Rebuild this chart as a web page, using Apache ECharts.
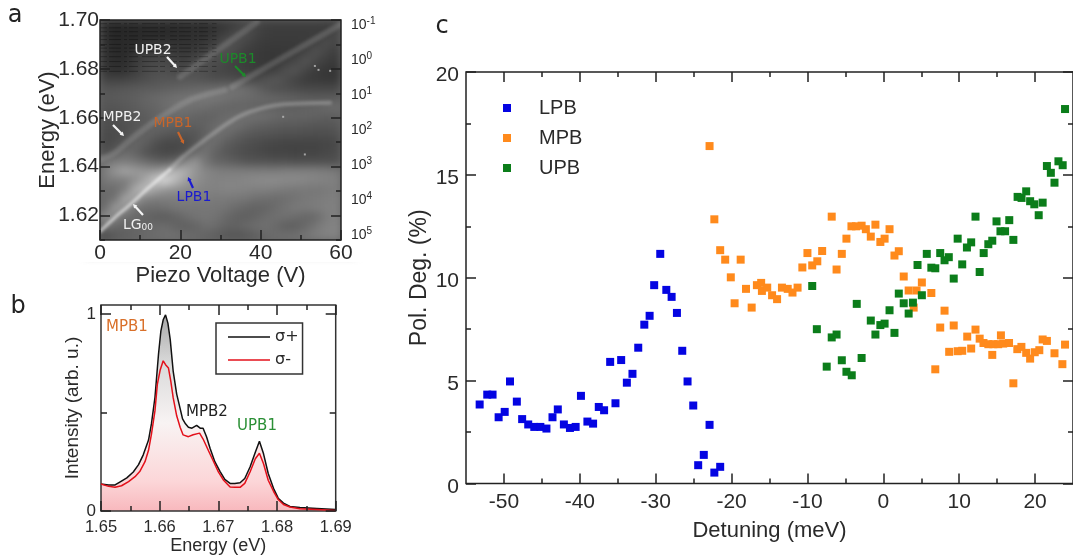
<!DOCTYPE html>
<html><head><meta charset="utf-8">
<style>html,body{margin:0;padding:0;background:#fff;overflow:hidden}#c{width:1073px;height:556px}</style>
<script src="https://cdn.jsdelivr.net/npm/echarts@6/dist/echarts.min.js"></script>
</head><body><div id="c"></div>
<script>
// ---- panel c: polarization degree vs detuning ----
const lpbX=[-53.2,-52.2,-51.5,-50.7,-49.9,-49.2,-48.3,-47.6,-46.8,-46.0,-45.2,-44.4,-43.6,-42.9,-42.1,-41.3,-40.55,-39.85,-39.0,-38.25,-37.5,-36.8,-36.0,-35.3,-34.55,-33.8,-33.06,-32.3,-31.5,-30.8,-30.2,-29.4,-28.6,-27.9,-27.2,-26.5,-25.8,-25.05,-24.4,-23.66,-22.9,-22.27,-21.5];
const lpbY=[3.84,4.32,4.32,3.22,3.48,4.96,3.98,3.13,2.87,2.75,2.75,2.67,3.22,3.6,2.87,2.7,2.75,4.26,3.01,2.91,3.72,3.56,5.91,3.9,6.0,4.9,5.33,6.6,7.72,8.15,9.64,11.16,9.41,9.07,8.29,6.45,4.96,3.79,0.89,1.39,2.85,0.53,0.81];
const mpbX=[-22.9,-22.27,-21.5,-20.84,-20.1,-19.6,-18.8,-18.1,-17.35,-16.66,-16.1,-16.0,-15.3,-14.66,-14.0,-13.36,-12.6,-11.97,-11.3,-10.67,-10.0,-9.37,-8.7,-8.06,-6.8,-6.16,-5.47,-4.86,-4.2,-3.6,-2.86,-2.3,-1.65,-1.04,-0.39,0.17,0.82,1.47,2.04,2.69,3.34,4.0,4.38,5.08,6.33,6.85,7.5,8.07,8.68,9.28,9.8,10.4,11.06,11.58,12.15,12.7,13.2,13.84,14.36,14.5,15.14,15.5,15.8,16.57,17.14,17.66,18.2,18.83,19.35,19.96,20.56,21.0,21.56,22.56,23.6,23.95];
const mpbY=[16.4,12.84,11.34,10.88,10.02,8.76,10.88,9.46,8.55,9.64,9.75,9.36,9.52,9.15,8.96,9.52,9.46,9.28,9.52,10.5,11.2,10.6,10.8,11.3,12.97,10.4,11.16,11.9,12.5,12.5,12.53,12.36,12.0,12.58,11.74,11.9,12.36,11.08,11.29,10.06,9.38,8.55,9.38,9.77,9.26,5.55,7.58,8.4,6.4,7.68,6.43,6.45,7.14,6.56,7.48,7.04,6.83,6.77,6.25,6.77,6.77,7.2,6.8,6.83,4.87,6.53,6.64,6.35,6.07,6.38,6.48,7.0,6.93,6.33,5.8,6.75];
const upbX=[-9.37,-8.76,-7.46,-6.8,-6.16,-5.47,-4.86,-4.16,-3.5,-2.86,-1.65,-1.04,-0.39,0.17,0.82,1.47,2.04,2.69,3.34,3.9,4.51,5.08,5.73,6.33,6.85,7.5,8.07,8.63,9.28,9.8,10.4,11.02,11.58,12.15,12.7,13.23,13.84,14.36,14.92,15.44,16.05,16.6,17.14,17.7,18.22,18.83,19.35,19.9,20.48,21.0,21.56,22.08,22.56,23.08,23.64,23.95];
const upbY=[9.6,7.5,5.68,7.1,7.24,5.99,5.43,5.26,8.73,6.1,7.92,7.24,7.7,7.77,8.42,7.32,9.23,8.76,8.26,8.79,10.62,9.15,11.16,10.49,10.46,11.2,10.85,11.0,9.96,11.9,10.65,11.47,11.72,12.97,10.28,11.2,11.63,11.8,12.74,12.26,12.26,12.8,11.84,13.93,13.88,14.2,13.72,13.57,13.04,13.65,15.43,15.1,14.62,15.66,15.47,18.2];
const detuningLabels=[-50,-40,-30,-20,-10,0,10,20];
const detuningMinor=[-45,-35,-25,-15,-5,5,15];
const polLabels=[0,5,10,15,20];
const polMinor=[2.5,7.5,12.5,17.5];

// ---- panel b: spectra ----
const blackE=[1.65,1.6513,1.6524,1.6532,1.6544,1.6555,1.6564,1.6572,1.6581,1.6586,1.6592,1.6598,1.6602,1.6606,1.6610,1.6614,1.6618,1.6623,1.6629,1.6635,1.6639,1.6644,1.6649,1.6655,1.6663,1.6669,1.6674,1.6680,1.6686,1.6694,1.6703,1.6711,1.6720,1.6728,1.6737,1.6745,1.6754,1.6763,1.6770,1.6777,1.6785,1.6794,1.6802,1.6811,1.6822,1.6839,1.6868,1.69];
const blackI=[.137,.132,.132,.147,.168,.198,.235,.285,.36,.443,.577,.795,.912,.97,.995,.953,.869,.71,.593,.518,.467,.442,.425,.42,.434,.42,.42,.375,.317,.25,.2,.16,.14,.14,.143,.165,.223,.298,.354,.29,.19,.115,.065,.04,.023,.018,.013,.007];
const redE=[1.65,1.6513,1.6524,1.6535,1.6547,1.6558,1.6566,1.6575,1.6581,1.6586,1.6592,1.6596,1.6601,1.6606,1.6610,1.6615,1.6619,1.6623,1.6629,1.6635,1.6640,1.6649,1.6657,1.6668,1.6674,1.6683,1.6691,1.6700,1.6709,1.6720,1.6728,1.6737,1.6745,1.6754,1.6763,1.6770,1.6777,1.6785,1.6794,1.6802,1.6811,1.6822,1.6839,1.6868,1.69];
const redI=[.137,.125,.12,.128,.149,.174,.2,.25,.308,.39,.509,.642,.717,.762,.742,.725,.658,.575,.483,.424,.386,.377,.387,.395,.365,.307,.256,.198,.156,.122,.12,.12,.14,.198,.265,.293,.24,.156,.1,.058,.033,.02,.012,.008,.003];
const energyLabels=[1.65,1.66,1.67,1.68,1.69];
const energyMinor=[1.655,1.665,1.675,1.685];
const intensityLabels=[0,1];
const intensityMid=[0.5];

// ---- panel a: map, gray level per cell (top row = highest energy) ----
const mapRows=[
[45,40,40,42,42,45,42,42,45,45,45,50,55,60,70,70,62,62,62,62,62,62,60,62],
[48,38,40,40,42,42,42,45,45,48,48,55,62,75,80,68,62,60,60,60,60,60,62,72],
[48,40,42,42,48,50,50,48,50,50,55,62,80,80,70,62,58,58,58,58,60,65,78,70],
[50,42,42,50,58,62,62,58,55,58,68,78,82,72,62,58,56,55,56,58,68,82,70,62],
[50,45,45,58,68,72,72,65,62,72,82,78,72,65,60,58,55,55,62,72,85,72,62,58],
[55,48,50,62,72,78,78,72,78,82,78,72,68,66,62,60,58,65,80,85,70,60,55,52],
[68,65,68,72,78,82,85,85,88,85,82,78,78,75,72,72,82,88,78,68,60,58,56,55],
[85,85,88,90,92,92,95,98,100,102,105,108,112,115,110,100,88,80,78,75,72,72,72,72],
[88,90,92,95,100,105,108,112,115,118,120,120,115,110,108,105,102,100,98,95,92,90,90,90],
[85,85,88,92,98,100,108,112,115,112,110,105,102,100,100,98,98,98,95,95,98,100,105,108],
[80,80,85,88,92,98,105,108,105,100,98,100,105,108,112,112,110,105,102,100,100,98,95,95],
[78,78,80,85,92,100,100,98,95,95,98,105,112,112,105,98,95,92,90,90,88,86,86,88],
[75,75,80,92,100,95,88,84,84,85,95,112,108,98,90,86,84,82,80,80,78,78,78,80],
[72,78,88,102,95,80,72,72,74,85,110,108,94,86,80,76,72,70,68,68,68,68,70,72],
[80,92,108,100,84,76,72,72,80,108,115,98,88,82,76,74,70,68,68,66,68,68,72,75],
[115,125,125,120,110,100,95,105,135,150,118,102,98,92,86,84,84,82,82,80,80,80,80,80],
[125,150,165,155,150,150,165,185,175,150,135,128,125,125,125,125,125,125,128,128,128,128,125,122],
[120,125,125,140,165,200,220,190,160,145,135,130,132,132,135,138,140,140,138,138,135,132,130,128],
[108,108,125,170,190,165,150,145,140,135,130,130,132,132,130,128,128,125,122,120,120,118,122,125],
[105,115,165,165,130,125,125,125,125,125,125,122,122,120,118,112,110,108,110,115,120,122,125,128],
[108,155,150,115,110,108,112,118,120,118,118,118,115,108,102,98,100,108,115,122,122,125,128,128],
[145,135,110,105,100,95,92,98,108,115,118,115,105,98,95,100,108,112,112,108,102,105,122,130],
[120,105,100,102,102,105,108,100,95,100,110,108,100,98,105,110,112,105,95,95,105,118,128,132],
[75,90,95,100,105,108,112,112,108,105,100,95,88,85,88,95,105,108,110,112,118,125,130,132]];
const ridgeLG=[[0,1.6135],[3.7,1.6192],[7.5,1.6245],[12.4,1.6318],[17.4,1.6388]];
const ridgeMPB1=[[17.4,1.6388],[20.4,1.6437],[26.1,1.651],[32.4,1.6584],[37.3,1.6624],[44.8,1.6653],[57.3,1.6661]];
const ridgeMPB2=[[0,1.6429],[3.7,1.6457],[7.5,1.651],[14.2,1.6592],[22.4,1.6673],[31.1,1.6714]];
const ridgeUPB2=[[19.9,1.6767],[39.1,1.6992]];
const ridgeUPB1=[[32.9,1.6727],[59.7,1.698]];
const specks=[[53.5,1.6812],[54.4,1.6796],[57.3,1.6792],[45.6,1.6604],[51,1.645]];
const streakEnergies=[1.6985,1.6968,1.6952,1.6935,1.692,1.69,1.6885,1.687,1.685,1.683,1.681,1.679];
const voltageLabels=[0,20,40,60];
const voltageMinor=[10,30,50];
const energyMapLabels=[1.62,1.64,1.66,1.68,1.70];
const energyMapMinor=[1.61,1.63,1.65,1.67,1.69];

const AR='"Liberation Sans",Arial,sans-serif', DV='"DejaVu Sans",Verdana,sans-serif', INK='#2a2a2a';

function mk(o){
  const a={type:'value',gridIndex:o.g,position:o.pos,min:o.min,max:o.max,zlevel:2,z:5,
    axisLine:{show:false,onZero:false},splitLine:{show:false},
    axisTick:{show:!!o.ticks,inside:true,length:o.len||10,customValues:o.ticks,lineStyle:{color:'#222',width:1.5}},
    axisLabel:o.labels?{show:true,customValues:o.labels,margin:o.margin||7,fontFamily:AR,fontSize:o.fs||21,color:INK,formatter:o.fmt}:{show:false}};
  if(o.low){a.axisLabel.verticalAlign='top';a.axisLabel.lineHeight=o.low;}
  if(o.name){a.name=o.name;a.nameLocation='middle';a.nameGap=o.gap;a.nameMoveOverlap=false;a.nameTextStyle={fontFamily:AR,fontSize:o.nfs||20,color:INK};}
  return a;
}
const f2=v=>(+v).toFixed(2), f0=v=>String(Math.round(v));
const xAxes=[
  mk({g:0,pos:'bottom',min:0,max:60,labels:voltageLabels,ticks:voltageLabels,fs:21,fmt:f0,name:'Piezo Voltage (V)',gap:25,nfs:22,margin:3}),
  mk({g:0,pos:'bottom',min:0,max:60,ticks:voltageMinor,len:5}),
  {type:'category',gridIndex:0,show:false,data:mapRows[0].map((_,i)=>i)},
  mk({g:1,pos:'bottom',min:1.65,max:1.69,labels:energyLabels,ticks:energyLabels,fs:16.5,fmt:f2,name:'Energy (eV)',gap:26,nfs:18,margin:8}),
  mk({g:1,pos:'bottom',min:1.65,max:1.69,ticks:energyMinor,len:5}),
  mk({g:1,pos:'top',min:1.65,max:1.69,ticks:energyLabels}),
  mk({g:1,pos:'top',min:1.65,max:1.69,ticks:energyMinor,len:5}),
  mk({g:2,pos:'bottom',min:-55,max:25,labels:detuningLabels,ticks:detuningLabels,fmt:f0,name:'Detuning (meV)',gap:36,nfs:22,margin:8}),
  mk({g:2,pos:'bottom',min:-55,max:25,ticks:detuningMinor,len:5}),
  mk({g:2,pos:'top',min:-55,max:25,ticks:detuningLabels}),
  mk({g:2,pos:'top',min:-55,max:25,ticks:detuningMinor,len:5}),
  {type:'value',gridIndex:3,show:false,min:0,max:1}
];
const yAxes=[
  mk({g:0,pos:'left',min:1.61,max:1.70,labels:energyMapLabels,ticks:energyMapLabels,fs:21,fmt:f2,name:'Energy (eV)',gap:41,nfs:22,margin:1}),
  mk({g:0,pos:'left',min:1.61,max:1.70,ticks:energyMapMinor,len:5}),
  mk({g:0,pos:'right',min:1.61,max:1.70,ticks:energyMapLabels}),
  mk({g:0,pos:'right',min:1.61,max:1.70,ticks:energyMapMinor,len:5}),
  {type:'category',gridIndex:0,show:false,inverse:true,data:mapRows.map((_,i)=>i)},
  mk({g:1,pos:'left',min:0,max:1.045,labels:intensityLabels,ticks:intensityLabels,fs:17,fmt:f0,name:'Intensity (arb. u.)',gap:19,nfs:19,margin:5}),
  mk({g:1,pos:'left',min:0,max:1.045,ticks:intensityMid,len:6}),
  mk({g:1,pos:'right',min:0,max:1.045,ticks:intensityLabels}),
  mk({g:1,pos:'right',min:0,max:1.045,ticks:intensityMid,len:6}),
  mk({g:2,pos:'left',min:0,max:20,labels:polLabels,ticks:polLabels,fmt:f0,name:'Pol. Deg. (%)',gap:35,nfs:23,low:7}),
  mk({g:2,pos:'left',min:0,max:20,ticks:polMinor,len:5}),
  mk({g:2,pos:'right',min:0,max:20,ticks:polLabels,len:10}),
  mk({g:2,pos:'right',min:0,max:20,ticks:polMinor,len:5}),
  {type:'log',logBase:10,gridIndex:3,position:'right',inverse:true,min:0.1,max:100000,zlevel:2,
    axisLine:{show:false,onZero:false},axisTick:{show:false},splitLine:{show:false},minorSplitLine:{show:false},
    axisLabel:{show:true,margin:9,formatter:v=>'{b|10}{s|'+Math.round(Math.log10(v))+'}',
      rich:{b:{fontFamily:AR,fontSize:14,color:INK,lineHeight:18},s:{fontFamily:AR,fontSize:10,color:INK,verticalAlign:'top',lineHeight:12}}}}
];
const grid=[
  {left:100,top:20,width:241,height:220,show:true,borderColor:'#222',borderWidth:1.5,backgroundColor:'transparent',zlevel:2,z:4},
  {left:101,top:305,width:234.7,height:208.3,show:true,borderColor:'#333',borderWidth:1.5,backgroundColor:'transparent',zlevel:2,z:4},
  {left:466,top:72,width:614,height:411.5,show:true,borderColor:'#222',borderWidth:1.5,backgroundColor:'transparent',zlevel:2,z:4},
  {left:341,top:25,width:1,height:210,show:false}
];
const zip=(a,b)=>a.map((v,i)=>[v,b[i]]);
const cells=[];mapRows.forEach((r,j)=>r.forEach((v,i)=>cells.push([i,j,v])));
const ridge=(name,data,color,width)=>({name,type:'line',xAxisIndex:0,yAxisIndex:0,data,zlevel:1,z:3,symbol:'none',silent:true,clip:true,lineStyle:{color,width,cap:'round'},smooth:0.3});
const streakData=[];streakEnergies.forEach(e=>{streakData.push([0,e],[29,e],[null,null])});
const dotted=(name,x,y,color)=>({name,type:'scatter',xAxisIndex:7,yAxisIndex:9,data:zip(x,y),symbol:'rect',symbolSize:8,zlevel:2,z:6,clip:true,itemStyle:{color,opacity:1}});
const series=[
  {name:'map',type:'heatmap',xAxisIndex:2,yAxisIndex:4,data:cells,zlevel:0,z:2,progressive:0,silent:true,itemStyle:{borderWidth:0}},
  ridge('LG00',ridgeLG,'rgba(255,255,255,.6)',3),
  ridge('MPB1 ridge',ridgeMPB1,'rgba(255,255,255,.24)',4),
  ridge('MPB2 ridge',ridgeMPB2,'rgba(255,255,255,.13)',6),
  ridge('UPB2 ridge',ridgeUPB2,'rgba(255,255,255,.13)',6),
  ridge('UPB1 ridge',ridgeUPB1,'rgba(255,255,255,.15)',6),
  {name:'streaks',type:'line',xAxisIndex:0,yAxisIndex:0,data:streakData,connectNulls:false,zlevel:2,z:2,symbol:'none',silent:true,lineStyle:{color:'rgba(0,0,0,.3)',width:1,type:[7,2,12,3,3,2,9,4,16,2,5,5]}},
  {name:'specks',type:'scatter',xAxisIndex:0,yAxisIndex:0,data:specks,symbol:'rect',symbolSize:2,zlevel:2,z:2,silent:true,itemStyle:{color:'#bbb'}},
  {name:'σ+',type:'line',xAxisIndex:3,yAxisIndex:5,data:zip(blackE,blackI),symbol:'none',zlevel:2,z:3,
    itemStyle:{color:'#111'},lineStyle:{color:'#111',width:1.5},
    areaStyle:{opacity:1,color:{type:'linear',x:0,y:0,x2:0,y2:1,colorStops:[{offset:0,color:'#a8a8a8'},{offset:.25,color:'#dadada'},{offset:.55,color:'#f8f3f3'},{offset:.85,color:'#fcd6d8'},{offset:1,color:'#f8b8bd'}]}}},
  {name:'σ-',type:'line',xAxisIndex:3,yAxisIndex:5,data:zip(redE,redI),symbol:'none',zlevel:2,z:4,itemStyle:{color:'#e3101a'},lineStyle:{color:'#e3101a',width:1.5}},
  dotted('LPB',lpbX,lpbY,'#0404e2'),
  dotted('MPB',mpbX,mpbY,'#ff8a1c'),
  dotted('UPB',upbX,upbY,'#0b7d1a')
];
const legend=[
  {data:['σ+','σ-'],left:216,top:323,orient:'vertical',selectedMode:false,zlevel:2,z:8,backgroundColor:'#fff',borderColor:'#333',borderWidth:1.5,borderRadius:0,padding:[6,4,6,12],icon:'rect',itemWidth:42,itemHeight:1.6,itemGap:7,textStyle:{fontFamily:DV,fontSize:16,color:INK}},
  {data:['LPB','MPB','UPB'],left:503,top:98,orient:'vertical',selectedMode:false,zlevel:2,z:8,padding:0,icon:'rect',itemWidth:8,itemHeight:8,itemGap:10,textStyle:{fontFamily:AR,fontSize:20,color:INK,padding:[0,0,0,23]}}
];
const T=(text,x,y,fill,fs,fam)=>({type:'text',zlevel:2,z:9,silent:true,x,y,style:{text,fill,font:(fs||14)+'px '+(fam||DV),textAlign:'center',textVerticalAlign:'middle'}});
function arrow(x1,y1,x2,y2,c){
  const dx=x2-x1,dy=y2-y1,l=Math.hypot(dx,dy),ux=dx/l,uy=dy/l,w=1.1,h=2.2,hb=4;
  const bx=x2-ux*hb,by=y2-uy*hb;
  return {type:'polygon',zlevel:2,z:9,silent:true,shape:{points:[[x1-uy*w,y1+ux*w],[bx-uy*w,by+ux*w],[bx-uy*h,by+ux*h],[x2,y2],[bx+uy*h,by-ux*h],[bx+uy*w,by-ux*w],[x1+uy*w,y1-ux*w]]},style:{fill:c}};
}
const mask=(x,y,width,height)=>({type:'rect',zlevel:2,z:-1,silent:true,shape:{x,y,width,height},style:{fill:'#fff'}});
const ORG='#c8652a',GRN='#1c8a2a',BLU='#1a1ad0';
const graphic={elements:[
  {type:'rect',zlevel:0,z:-1,silent:true,shape:{x:85,y:5,width:271,height:250},style:{fill:'#666'}},
  mask(70,0,30,262),mask(341,0,30,262),mask(70,0,300,20),mask(70,240,300,22),
  T('a',15,16,'#222',24),T('b',18,307,'#222',24),T('c',442,27,'#222',24),
  T('UPB2',153,50,'#f0f0f0'),arrow(167,57,177,68,'#f4f4f4'),
  T('UPB1',238,59,GRN),arrow(235,66,246,77,GRN),
  T('MPB2',122,117,'#f0f0f0'),arrow(113,125,124,136,'#f4f4f4'),
  T('MPB1',173,123,ORG),arrow(178,132,184,144,ORG),
  T('LPB1',194,197,BLU),arrow(193,188,188,177,BLU),
  {type:'text',zlevel:2,z:9,silent:true,x:138,y:225,style:{text:'{a|LG}{s|00}',textAlign:'center',textVerticalAlign:'middle',rich:{a:{font:'14px '+DV,fill:'#f0f0f0'},s:{font:'9px '+DV,fill:'#f0f0f0',verticalAlign:'bottom'}}}},
  arrow(143,215,133,204,'#f4f4f4'),
  T('MPB1',127,327,'#d9702a',15),T('MPB2',207,412,'#222',15),T('UPB1',257,426,'#2a8f35',15)
]};
const chart=echarts.init(document.getElementById('c'),null,{renderer:'canvas'});
chart.setOption({animation:false,backgroundColor:'transparent',grid,xAxis:xAxes,yAxis:yAxes,legend,graphic,series,
  tooltip:{show:false},
  visualMap:{type:'continuous',show:false,seriesIndex:0,dimension:2,min:0,max:255,inRange:{color:['#000000','#ffffff']}}});
const blur=(z,px)=>{const c=document.querySelector('canvas[data-zr-dom-id="zr_'+z+'"]');if(c)c.style.filter='blur('+px+'px)';};
blur(0,4);blur(1,1.8);
</script>
</body></html>
